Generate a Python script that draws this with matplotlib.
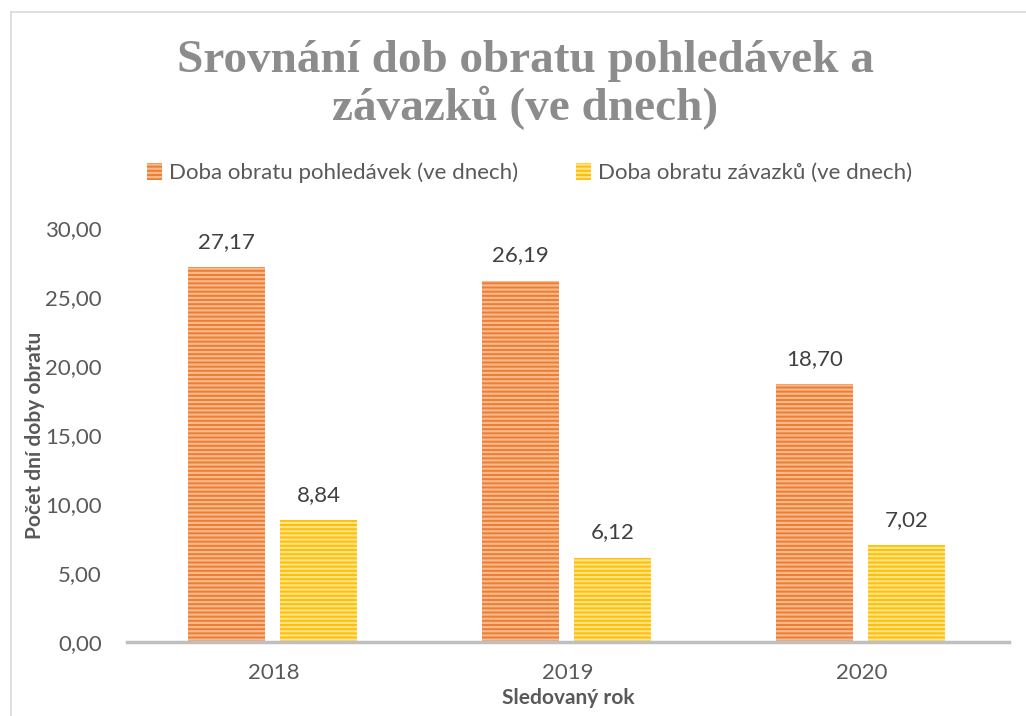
import matplotlib
matplotlib.use('Agg')
import matplotlib.pyplot as plt
import numpy as np
from matplotlib.lines import Line2D

years = ['2018', '2019', '2020']
pohledavky = [27.17, 26.19, 18.70]
zavazky = [8.84, 6.12, 7.02]
series_names = ['Doba obratu pohledávek (ve dnech)', 'Doba obratu závazků (ve dnech)']
yticks = [0, 5, 10, 15, 20, 25, 30]

plt.rcParams['font.family'] = ['Lato', 'DejaVu Sans']
plt.rcParams['hatch.linewidth'] = 1.6

text_c = '#595959'
fig = plt.figure(figsize=(10.26, 7.16), dpi=100)
ax = fig.add_axes([127/1026, 1 - 642/716, 882/1026, (642 - 228)/716])

x = np.arange(len(years))
w = 0.26
b1 = ax.bar(x - 0.162, pohledavky, w, color='#ED7D31', edgecolor='#F6B98C',
            hatch='----', linewidth=0, label=series_names[0])
b2 = ax.bar(x + 0.152, zavazky, w, color='#FFC000', edgecolor='#FFE28A',
            hatch='----', linewidth=0, label=series_names[1])

for bars, vals in ((b1, pohledavky), (b2, zavazky)):
    for r, v in zip(bars, vals):
        ax.annotate(f'{v:.2f}'.replace('.', ','), (r.get_x() + r.get_width()/2, v),
                    xytext=(0, 11), textcoords='offset points', ha='center', va='bottom',
                    fontsize=16, color='#404040')

ax.set_xlim(-0.5, 2.5)
ax.set_ylim(0, 30)
ax.set_yticks(yticks)
ax.set_yticklabels([f'{t:.2f}'.replace('.', ',') for t in yticks])
ax.set_xticks(x)
ax.set_xticklabels(years)
ax.tick_params(axis='both', length=0, labelsize=16, labelcolor=text_c)
ax.tick_params(axis='y', pad=18)
ax.tick_params(axis='x', pad=15)
for s in ('top', 'right', 'left'):
    ax.spines[s].set_visible(False)
ax.spines['bottom'].set_color('#BFBFBF')
ax.spines['bottom'].set_linewidth(2.5)

ax.set_ylabel('Počet dní doby obratu', fontsize=15, fontweight='bold', color=text_c, labelpad=0)
ax.set_xlabel('Sledovaný rok', fontsize=15, fontweight='bold', color=text_c, labelpad=4)

fig.text(0.512, 1 - 85/716, 'Srovnání dob obratu pohledávek a\nzávazků (ve dnech)',
         ha='center', va='center', fontsize=34, fontweight='bold', color='#8C8C8C',
         family='Liberation Serif', linespacing=1.1)

fig.legend(handles=[b1, b2], loc='center', bbox_to_anchor=(0.516, 1 - 173/716),
           ncol=2, frameon=False, fontsize=16, labelcolor=text_c,
           handlelength=0.7, handleheight=0.8, handletextpad=0.3, columnspacing=2.6)

# chart border
fig.add_artist(Line2D([11/1026, 11/1026], [0, 1 - 12/716], color='#D9D9D9', lw=1.2))
fig.add_artist(Line2D([11/1026, 1], [1 - 12/716, 1 - 12/716], color='#D9D9D9', lw=1.2))

fig.savefig('out.png', dpi=100)
